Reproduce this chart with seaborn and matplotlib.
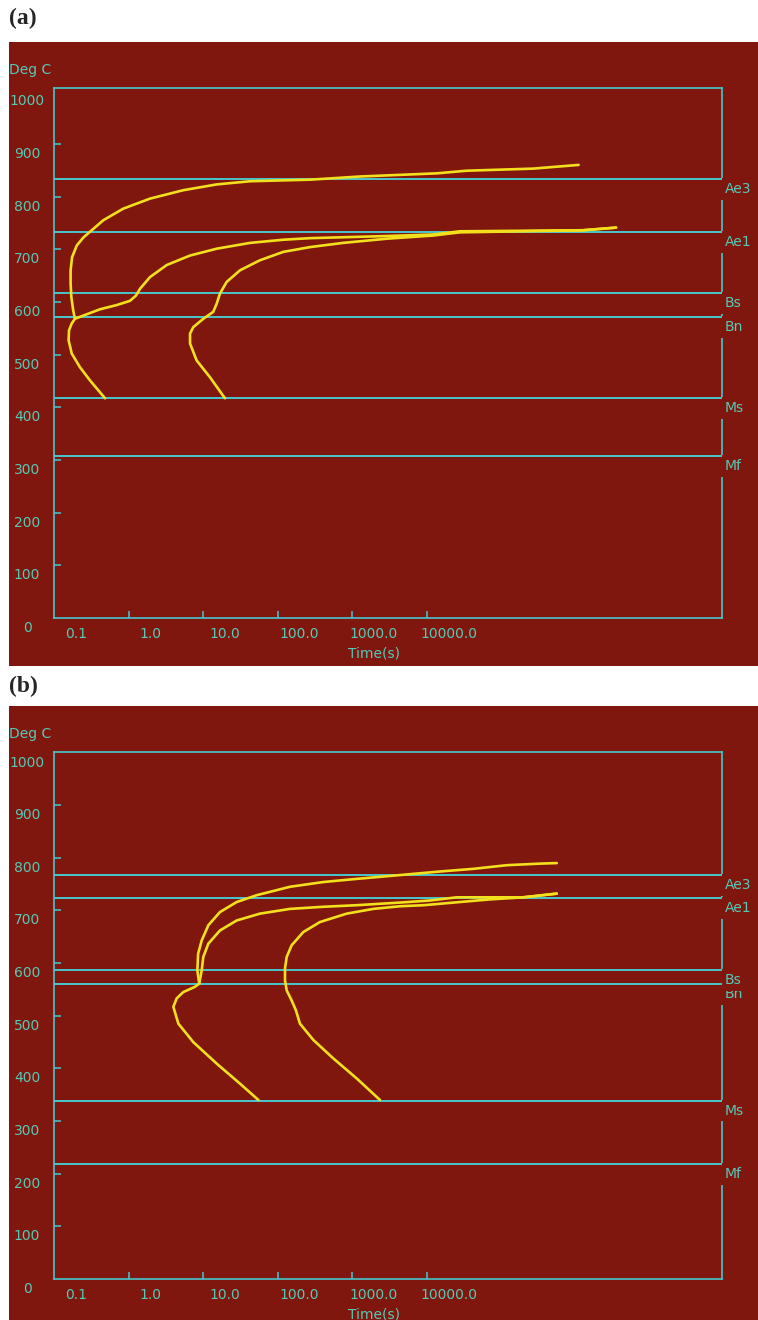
import matplotlib
matplotlib.use("Agg")
import matplotlib.pyplot as plt
import matplotlib.transforms as mtransforms
from matplotlib.patches import Rectangle
from matplotlib.ticker import FixedLocator, NullLocator
import seaborn as sns

# colours of the old TTT software screen
BG_RED = "#7f170f"
LINE_CYAN = "#47c6cf"
TEXT_CYAN = "#55c9b6"
CURVE_YELLOW = "#f3e01c"

# axis ticks
Y_TICKS = [0, 100, 200, 300, 400, 500, 600, 700, 800, 900, 1000]
X_TICKS = [0.1, 1, 10, 100, 1000, 10000]
X_TICK_LABELS = ["0.1", "1.0", "10.0", "100.0", "1000.0", "10000.0"]

# critical temperatures (deg C)
LINE_NAMES = ["Ae3", "Ae1", "Bs", "Bn", "Ms", "Mf"]
A_LINE_TEMPS = [833, 732, 617, 571, 417, 307]
B_LINE_TEMPS = [767, 724, 587, 560, 339, 219]

# panel (a) curves: time (s) / temperature (deg C)
A_START_TIME = [0.484, 0.304, 0.223, 0.173, 0.157, 0.159, 0.173, 0.191, 0.181, 0.171,
                0.167, 0.167, 0.175, 0.202, 0.247, 0.321, 0.459, 0.851, 1.94, 5.44,
                15.3, 42.8, 273, 1280, 13700, 34600, 2.7e5, 1.1e6]
A_START_TEMP = [417, 451, 476, 502, 527, 546, 559, 568, 584, 609,
                635, 660, 685, 707, 722, 736, 755, 777, 796, 812,
                823, 829, 832, 838, 844, 849, 853, 860]
A_PEARL_TIME = [0.191, 0.247, 0.414, 0.695, 1.047, 1.26, 1.43, 1.94, 3.26, 6.7,
                15.3, 42.8, 120, 273, 2960, 12300, 28000, 1.27e6, 3.5e6]
A_PEARL_TEMP = [568, 574, 586, 594, 602, 612, 625, 647, 670, 688,
                701, 712, 718, 721, 725, 728, 734, 736, 741]
A_FINISH_TIME = [19.7, 12.4, 8.2, 6.7, 6.7, 7.4, 10.1, 13.7, 15.3, 16.9, 20.8,
                 31.4, 58, 120, 273, 760, 2960, 12300, 28000, 1.27e6, 3.5e6]
A_FINISH_TEMP = [417, 457, 489, 521, 540, 552, 568, 581, 597, 616, 638,
                 660, 679, 695, 704, 712, 720, 726, 732, 736, 741]

# panel (b) curves
B_START_TIME = [55.4, 31.4, 15.3, 7.4, 4.67, 4.0, 4.43, 5.44, 7.8, 8.9, 8.4, 8.6, 9.6,
                11.8, 16.9, 28.3, 52.6, 147, 412, 1155, 2920, 15100, 42000, 1.2e5,
                3.35e5, 5.6e5]
B_START_TEMP = [340, 371, 409, 450, 485, 517, 533, 545, 555, 561, 586, 618, 643,
                672, 697, 716, 729, 745, 754, 760, 765, 774, 779, 786,
                789, 790]
B_PEARL_TIME = [8.9, 9.6, 10.1, 11.8, 16.9, 28.3, 58.2, 147, 412, 1155, 4400, 11200,
                25400, 2e5, 5.6e5]
B_PEARL_TEMP = [561, 586, 612, 637, 662, 681, 694, 703, 707, 710, 715, 719,
                725, 725, 732]
B_FINISH_TIME = [2375, 1155, 561, 303, 200, 177, 155, 133, 126, 126, 133, 155, 222,
                 371, 849, 1930, 4400, 9100, 71000, 2e5, 5.6e5]
B_FINISH_TEMP = [340, 381, 419, 454, 485, 510, 529, 548, 567, 590, 612, 634, 659,
                 678, 694, 703, 708, 710, 721, 725, 732]

sns.set_theme(style="white")
plt.rcParams["font.family"] = ["DejaVu Sans"]

W, H = 758, 1320
fig = plt.figure(figsize=(W / 100, H / 100), dpi=100)
fig.patch.set_facecolor("white")


def px_rect(x0, y0, x1, y1):
    # pixel box (origin top-left) -> figure fraction [left, bottom, width, height]
    return [x0 / W, 1 - y1 / H, (x1 - x0) / W, (y1 - y0) / H]


def draw_panel(ax, ytop, line_temps, curves):
    ax.set_facecolor(BG_RED)
    ax.set_xscale("log")
    ax.set_xlim(0.1, 9.25e7)
    ax.set_ylim(0, ytop)

    for sp in ax.spines.values():
        sp.set_visible(True)
        sp.set_color(LINE_CYAN)
        sp.set_linewidth(1.2)

    for temp in line_temps:
        ax.axhline(temp, color=LINE_CYAN, lw=1.4, zorder=2.8)

    for t, T in curves:
        sns.lineplot(x=t, y=T, sort=False, estimator=None, color=CURVE_YELLOW,
                     lw=1.9, ax=ax, zorder=3)

    ax.yaxis.set_major_locator(FixedLocator(Y_TICKS[1:-1]))
    ax.xaxis.set_major_locator(FixedLocator(X_TICKS[1:]))
    ax.xaxis.set_minor_locator(NullLocator())
    ax.yaxis.set_minor_locator(NullLocator())
    ax.tick_params(direction="in", length=5, width=1.1, color=LINE_CYAN,
                   left=True, bottom=True, top=False, right=False,
                   labelleft=False, labelbottom=False)
    ax.set_xlabel("")
    ax.set_ylabel("")

    ytrans = mtransforms.blended_transform_factory(ax.transAxes, ax.transData)
    xtrans = mtransforms.blended_transform_factory(ax.transData, ax.transAxes)

    for v in Y_TICKS:
        ax.annotate(str(v), xy=(0, v), xycoords=ytrans, xytext=(-27, -10),
                    textcoords="offset pixels", ha="center", va="center",
                    color=TEXT_CYAN, fontsize=10, annotation_clip=False)
    for v, lab in zip(X_TICKS, X_TICK_LABELS):
        ax.annotate(lab, xy=(v, 0), xycoords=xtrans, xytext=(22, -16),
                    textcoords="offset pixels", ha="center", va="center",
                    color=TEXT_CYAN, fontsize=10, annotation_clip=False)

    ax.annotate("Time(s)", xy=(0.479, 0), xycoords="axes fraction", xytext=(0, -35),
                textcoords="offset pixels", ha="center", va="center",
                color=TEXT_CYAN, fontsize=10, annotation_clip=False)
    ax.annotate("Deg C", xy=(0, 1), xycoords="axes fraction", xytext=(-45, 18),
                textcoords="offset pixels", ha="left", va="center",
                color=TEXT_CYAN, fontsize=10, annotation_clip=False)

    # right-hand labels, drawn bottom-up so upper labels sit on top
    for name, temp in reversed(list(zip(LINE_NAMES, line_temps))):
        ax.annotate(name, xy=(1, temp), xycoords=ytrans, xytext=(3, -10),
                    textcoords="offset pixels", ha="left", va="center",
                    color=TEXT_CYAN, fontsize=10, annotation_clip=False, zorder=2.6,
                    bbox=dict(boxstyle="square,pad=0.28", fc=BG_RED, ec="none"))


# red screen backgrounds
fig.add_artist(Rectangle((9 / W, 1 - 666 / H), 749 / W, 624 / H, transform=fig.transFigure,
                         facecolor=BG_RED, edgecolor="none", zorder=0))
fig.add_artist(Rectangle((9 / W, 0), 749 / W, 614 / H, transform=fig.transFigure,
                         facecolor=BG_RED, edgecolor="none", zorder=0))

ax_a = fig.add_axes(px_rect(54, 88, 722, 618))
draw_panel(ax_a, 1006, A_LINE_TEMPS,
           [(A_START_TIME, A_START_TEMP), (A_PEARL_TIME, A_PEARL_TEMP),
            (A_FINISH_TIME, A_FINISH_TEMP)])

ax_b = fig.add_axes(px_rect(54, 752, 722, 1279))
draw_panel(ax_b, 1001, B_LINE_TEMPS,
           [(B_START_TIME, B_START_TEMP), (B_PEARL_TIME, B_PEARL_TEMP),
            (B_FINISH_TIME, B_FINISH_TEMP)])

fig.text(9 / W, 1 - 18 / H, "(a)", fontsize=17, fontweight="bold",
         family="Liberation Serif", ha="left", va="center")
fig.text(9 / W, 1 - 686 / H, "(b)", fontsize=17, fontweight="bold",
         family="Liberation Serif", ha="left", va="center")

fig.savefig("out.png", dpi=100, facecolor="white")
